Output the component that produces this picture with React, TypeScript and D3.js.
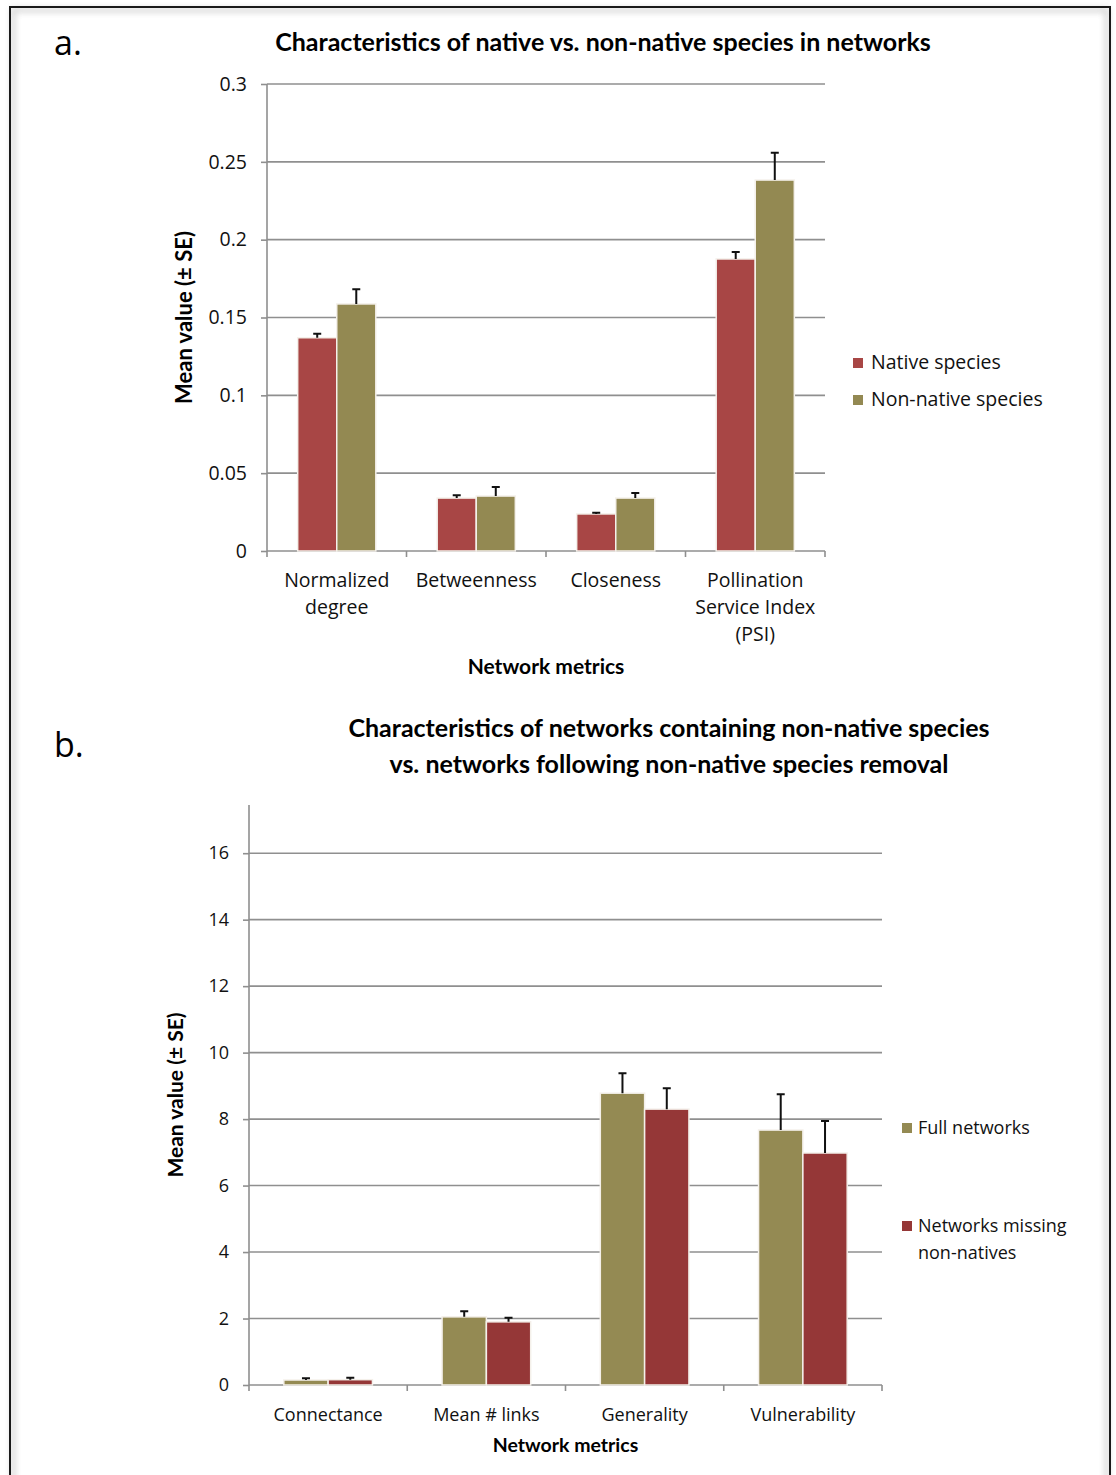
import React, { useEffect, useRef } from "react";
import * as d3 from "d3";

// Panel a data
const metricsA = ["Normalized\ndegree", "Betweenness", "Closeness", "Pollination\nService Index\n(PSI)"];
const nativeMean = [0.137, 0.034, 0.0238, 0.1876];
const nativeSE = [0.0025, 0.0018, 0.0007, 0.0045];
const nonNativeMean = [0.1587, 0.0353, 0.034, 0.2383];
const nonNativeSE = [0.0095, 0.0058, 0.0033, 0.0175];
const ticksA = [0, 0.05, 0.1, 0.15, 0.2, 0.25, 0.3];

// Panel b data
const metricsB = ["Connectance", "Mean # links", "Generality", "Vulnerability"];
const fullMean = [0.15, 2.05, 8.78, 7.67];
const fullSE = [0.05, 0.17, 0.6, 1.08];
const missingMean = [0.16, 1.9, 8.3, 6.98];
const missingSE = [0.06, 0.12, 0.63, 0.96];
const ticksB = [0, 2, 4, 6, 8, 10, 12, 14, 16];

const FONT = "'Open Sans', 'DejaVu Sans', sans-serif";
const BOLD = "Lato, 'Open Sans', sans-serif";

type Series = { name: string[]; color: string; mean: number[]; se: number[] };

function drawPanel(
  root: d3.Selection<SVGGElement, unknown, null, undefined>,
  opts: {
    left: number; right: number; top: number; bottom: number;
    domain: [number, number]; ticks: number[];
    cats: string[]; series: Series[];
    legendX: number; legendGap: number; legendY: number[];
    xTitleY: number; yTitleX: number; catLabelY: number; tickFmt: (d: number) => string;
    labelSize: number; tickSize: number; xTitleSize: number; yTitleSize: number; legendSize: number;
  }
) {
  const y = d3.scaleLinear().domain(opts.domain).range([opts.bottom, opts.top]);
  const x0 = d3.scaleBand().domain(opts.cats).range([opts.left, opts.right]).paddingInner(0).paddingOuter(0);
  const gapRatio = 0.44;
  const x1 = d3
    .scaleBand()
    .domain(opts.series.map((_, i) => String(i)))
    .range([x0.bandwidth() * (gapRatio / 2), x0.bandwidth() * (1 - gapRatio / 2)])
    .padding(0);

  const g = root.append("g");

  // gridlines
  g.selectAll(".grid")
    .data(opts.ticks.filter((t) => t > 0))
    .enter()
    .append("line")
    .attr("x1", opts.left)
    .attr("x2", opts.right)
    .attr("y1", (d) => y(d))
    .attr("y2", (d) => y(d))
    .attr("stroke", "#8f8f8f")
    .attr("stroke-width", 1.6);

  // y axis
  const yAxis = g
    .append("g")
    .attr("transform", `translate(${opts.left},0)`)
    .call(d3.axisLeft(y).tickValues(opts.ticks).tickSize(6).tickPadding(14).tickFormat((d) => opts.tickFmt(+d)));
  yAxis.select(".domain").attr("stroke", "#8f8f8f").attr("stroke-width", 1.6).attr("d", `M-0,${opts.bottom}V${opts.top}`);
  yAxis.selectAll(".tick line").attr("stroke", "#8f8f8f").attr("stroke-width", 1.6);
  yAxis.selectAll(".tick text").attr("font-family", FONT).attr("font-size", opts.tickSize).attr("fill", "#111");

  // x axis line with category boundary ticks
  g.append("line")
    .attr("x1", opts.left)
    .attr("x2", opts.right)
    .attr("y1", opts.bottom)
    .attr("y2", opts.bottom)
    .attr("stroke", "#8f8f8f")
    .attr("stroke-width", 1.6);
  const bounds = opts.cats.map((c) => x0(c) as number).concat([opts.right]);
  g.selectAll(".xt")
    .data(bounds)
    .enter()
    .append("line")
    .attr("x1", (d) => d)
    .attr("x2", (d) => d)
    .attr("y1", opts.bottom)
    .attr("y2", opts.bottom + 6)
    .attr("stroke", "#8f8f8f")
    .attr("stroke-width", 1.6);

  // bars
  opts.series.forEach((s, si) => {
    const bg = g.append("g");
    bg.selectAll("rect")
      .data(opts.cats)
      .enter()
      .append("rect")
      .attr("x", (c) => (x0(c) as number) + (x1(String(si)) as number))
      .attr("width", x1.bandwidth())
      .attr("y", (c, i) => y(s.mean[i]))
      .attr("height", (c, i) => opts.bottom - y(s.mean[i]))
      .attr("fill", s.color)
      .attr("stroke", "#f4f0ea")
      .attr("stroke-width", 1.5);
    // error bars (upper only)
    const cx = (c: string) => (x0(c) as number) + (x1(String(si)) as number) + x1.bandwidth() / 2;
    bg.selectAll(".eb")
      .data(opts.cats)
      .enter()
      .append("path")
      .attr("d", (c, i) => {
        const top = y(s.mean[i] + s.se[i]);
        const base = y(s.mean[i]);
        return `M${cx(c)},${base}V${top}M${cx(c) - 4},${top}H${cx(c) + 4}`;
      })
      .attr("stroke", "#111")
      .attr("stroke-width", 2)
      .attr("fill", "none");
  });

  // category labels
  opts.cats.forEach((c) => {
    const t = g
      .append("text")
      .attr("x", (x0(c) as number) + x0.bandwidth() / 2)
      .attr("y", opts.catLabelY)
      .attr("text-anchor", "middle")
      .attr("font-family", FONT)
      .attr("font-size", opts.labelSize)
      .attr("fill", "#111");
    c.split("\n").forEach((line, li) => {
      t.append("tspan")
        .attr("x", (x0(c) as number) + x0.bandwidth() / 2)
        .attr("dy", li === 0 ? 0 : 27)
        .text(line);
    });
  });

  // axis titles
  g.append("text")
    .attr("x", (opts.left + opts.right) / 2)
    .attr("y", opts.xTitleY)
    .attr("text-anchor", "middle")
    .attr("font-family", BOLD)
    .attr("font-weight", "bold")
    .attr("font-size", opts.xTitleSize)
    .text("Network metrics");
  g.append("text")
    .attr("transform", `translate(${opts.yTitleX},${(opts.top + opts.bottom) / 2}) rotate(-90)`)
    .attr("text-anchor", "middle")
    .attr("font-family", BOLD)
    .attr("font-weight", "bold")
    .attr("font-size", opts.yTitleSize)
    .text("Mean value (± SE)");

  // legend
  opts.series.forEach((s, si) => {
    const ly = opts.legendY[si];
    g.append("rect")
      .attr("x", opts.legendX)
      .attr("y", ly - 11)
      .attr("width", 10)
      .attr("height", 10)
      .attr("fill", s.color);
    const t = g
      .append("text")
      .attr("x", opts.legendX + opts.legendGap)
      .attr("y", ly)
      .attr("font-family", FONT)
      .attr("font-size", opts.legendSize)
      .attr("fill", "#111");
    s.name.forEach((line, li) => {
      t.append("tspan").attr("x", opts.legendX + opts.legendGap).attr("dy", li === 0 ? 0 : 27).text(line);
    });
  });
}

export default function App() {
  const ref = useRef<SVGSVGElement>(null);

  useEffect(() => {
    const svg = d3.select(ref.current);
    svg.selectAll("*").remove();
    const root = svg.append("g");

    // frame with soft inner shadow
    const defs = root.append("defs");
    const f = defs.append("filter").attr("id", "blur").attr("x", "-5%").attr("y", "-5%").attr("width", "110%").attr("height", "110%");
    f.append("feGaussianBlur").attr("stdDeviation", 3);
    root.append("rect").attr("x", 0).attr("y", 0).attr("width", 1116).attr("height", 1475).attr("fill", "#fff");
    root.append("rect")
      .attr("x", 13).attr("y", 10).attr("width", 1094).attr("height", 1480)
      .attr("fill", "none").attr("stroke", "#cfcfcf").attr("stroke-width", 4).attr("filter", "url(#blur)");
    root.append("rect")
      .attr("x", 10).attr("y", 7).attr("width", 1100).attr("height", 1480)
      .attr("fill", "none").attr("stroke", "#1a1a1a").attr("stroke-width", 2);

    // panel labels and titles
    root.append("text").attr("x", 54).attr("y", 55).attr("font-family", FONT).attr("font-size", 34).text("a.");
    root.append("text").attr("x", 54).attr("y", 757).attr("font-family", FONT).attr("font-size", 34).text("b.");
    root.append("text")
      .attr("x", 603).attr("y", 51).attr("text-anchor", "middle")
      .attr("font-family", BOLD).attr("font-weight", "bold").attr("font-size", 25)
      .text("Characteristics of native vs. non-native species in networks");
    const tb = root.append("text")
      .attr("y", 737).attr("text-anchor", "middle")
      .attr("font-family", BOLD).attr("font-weight", "bold").attr("font-size", 25);
    tb.append("tspan").attr("x", 669).text("Characteristics of networks containing non-native species");
    tb.append("tspan").attr("x", 669).attr("dy", 36).text("vs. networks following non-native species removal");

    drawPanel(root, {
      left: 267, right: 825, top: 84, bottom: 551,
      domain: [0, 0.3], ticks: ticksA, cats: metricsA,
      series: [
        { name: ["Native species"], color: "#a84645", mean: nativeMean, se: nativeSE },
        { name: ["Non-native species"], color: "#938952", mean: nonNativeMean, se: nonNativeSE },
      ],
      legendX: 853, legendGap: 18, legendY: [369, 406],
      xTitleY: 674, yTitleX: 192, catLabelY: 587,
      tickFmt: (d) => (d === 0 ? "0" : String(d)),
      labelSize: 19.5, tickSize: 19.5, xTitleSize: 21, yTitleSize: 22, legendSize: 19.5,
    });

    drawPanel(root, {
      left: 249, right: 882, top: 805, bottom: 1385,
      domain: [0, 17.45], ticks: ticksB, cats: metricsB,
      series: [
        { name: ["Full networks"], color: "#948a53", mean: fullMean, se: fullSE },
        { name: ["Networks missing", "non-natives"], color: "#953737", mean: missingMean, se: missingSE },
      ],
      legendX: 902, legendGap: 16, legendY: [1134, 1232],
      xTitleY: 1452, yTitleX: 183, catLabelY: 1421,
      tickFmt: (d) => String(d),
      labelSize: 18, tickSize: 18, xTitleSize: 19.5, yTitleSize: 21, legendSize: 18,
    });
  }, []);

  return (
    <svg
      ref={ref}
      width={1116}
      height={1475}
      style={{ position: "absolute", left: 0, top: 0, display: "block" }}
    />
  );
}
